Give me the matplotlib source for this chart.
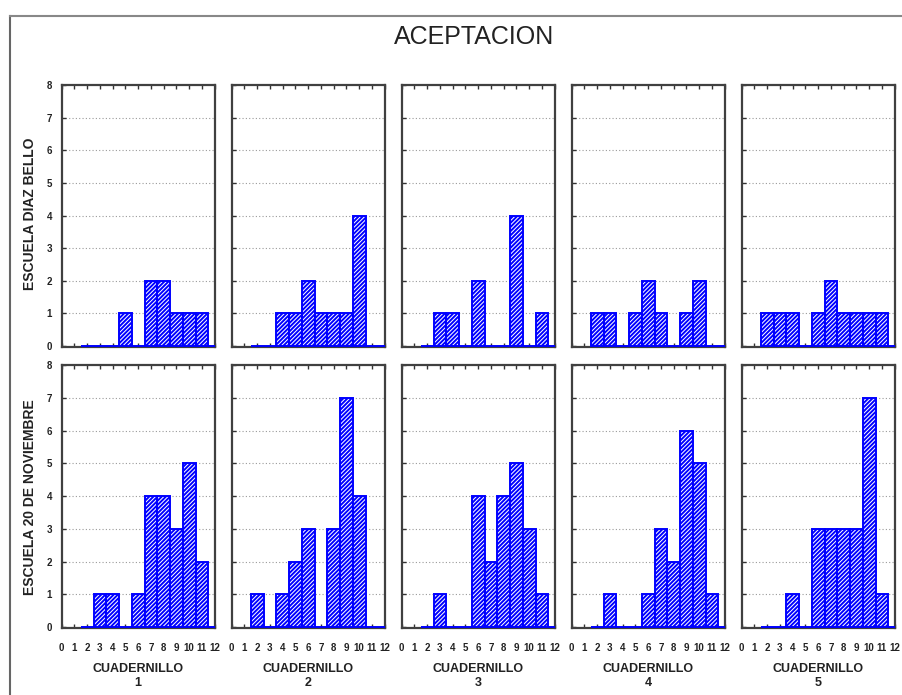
"""
histogramas de aceptacion, dos escuelas x cinco cuadernillos
"""

import matplotlib
matplotlib.use("Agg")
import matplotlib.pyplot as plt
from matplotlib.lines import Line2D

# puntajes (eje x) y cantidad de alumnos por puntaje
puntajes = [2, 3, 4, 5, 6, 7, 8, 9, 10, 11, 12]

diaz_bello_c1 = [0, 0, 0, 1, 0, 2, 2, 1, 1, 1, 0]
diaz_bello_c2 = [0, 0, 1, 1, 2, 1, 1, 1, 4, 0, 0]
diaz_bello_c3 = [0, 1, 1, 0, 2, 0, 0, 4, 0, 1, 0]
diaz_bello_c4 = [1, 1, 0, 1, 2, 1, 0, 1, 2, 0, 0]
diaz_bello_c5 = [1, 1, 1, 0, 1, 2, 1, 1, 1, 1, 0]

noviembre_c1 = [0, 1, 1, 0, 1, 4, 4, 3, 5, 2, 0]
noviembre_c2 = [1, 0, 1, 2, 3, 0, 3, 7, 4, 0, 0]
noviembre_c3 = [0, 1, 0, 0, 4, 2, 4, 5, 3, 1, 0]
noviembre_c4 = [0, 1, 0, 0, 1, 3, 2, 6, 5, 1, 0]
noviembre_c5 = [0, 0, 1, 0, 3, 3, 3, 3, 7, 1, 0]

escuelas = ["ESCUELA DIAZ BELLO", "ESCUELA 20 DE NOVIEMBRE"]
cuadernillos = ["1", "2", "3", "4", "5"]
xticks = list(range(0, 13))
yticks = list(range(0, 9))

W, H = 903, 695


def panel(fig, left, top, width, height, counts, row, col):
    """draw one histogram panel (pixel coords of the box)"""
    ax = fig.add_axes([left / W, 1 - (top + height) / H, width / W, height / H])
    ax.bar(puntajes, counts, width=1.0, facecolor="white",
           edgecolor="#0000ff", hatch="////////", linewidth=1.4, zorder=3)
    ax.set_xlim(0, 12)
    ax.set_ylim(-0.03, 8)
    ax.set_xticks(xticks)
    ax.set_yticks(yticks)
    # dotted horizontal grid at 1..7
    for y in range(1, 8):
        ax.axhline(y, color="#9a9a9a", linestyle=(0, (1, 2)),
                   linewidth=0.8, zorder=1)
    for s in ax.spines.values():
        s.set_linewidth(1.6)
        s.set_color("#404040")
    ax.tick_params(direction="in", length=3, width=1, top=True,
                   right=False, labelsize=7, color="#333333")
    ax.tick_params(axis="x", pad=11)
    ax.tick_params(axis="y", pad=7)
    for lab in ax.get_xticklabels() + ax.get_yticklabels():
        lab.set_fontweight("bold")
        lab.set_color("#222222")
    if col > 0:
        ax.set_yticklabels([])
    if row == 0:
        ax.set_xticklabels([])
    else:
        ax.set_xlabel("CUADERNILLO\n" + cuadernillos[col], fontsize=9,
                      fontweight="bold", linespacing=1.25, labelpad=7,
                      color="#222222")
    return ax


def main():
    """the main function"""
    plt.rcParams["font.family"] = ["Liberation Sans", "DejaVu Sans"]
    plt.rcParams["hatch.linewidth"] = 1.4
    fig = plt.figure(figsize=(W / 100, H / 100), dpi=100)

    datos = [[diaz_bello_c1, diaz_bello_c2, diaz_bello_c3,
              diaz_bello_c4, diaz_bello_c5],
             [noviembre_c1, noviembre_c2, noviembre_c3,
              noviembre_c4, noviembre_c5]]
    lefts = [61.7, 231.7, 401.7, 571.7, 741.7]
    tops = [85, 365]
    heights = [262, 263]
    for r in range(2):
        for c in range(5):
            panel(fig, lefts[c], tops[r], 153, heights[r], datos[r][c], r, c)

    fig.text(474.5 / W, 1 - 37 / H, "ACEPTACION", fontsize=18,
             ha="center", va="center", color="#222222")
    fig.text(30 / W, 1 - 214 / H, escuelas[0], rotation=90, fontsize=10,
             fontweight="bold", ha="center", va="center", color="#222222")
    fig.text(30 / W, 1 - 497 / H, escuelas[1], rotation=90, fontsize=10,
             fontweight="bold", ha="center", va="center", color="#222222")

    # outer frame (left and top edges visible)
    fig.add_artist(Line2D([10 / W, 10 / W], [0, 1 - 16 / H],
                          transform=fig.transFigure, color="#666666",
                          linewidth=1.5))
    fig.add_artist(Line2D([10 / W, 1], [1 - 16 / H, 1 - 16 / H],
                          transform=fig.transFigure, color="#888888",
                          linewidth=1.5))

    fig.savefig("out.png", dpi=100, facecolor="white")


main()
